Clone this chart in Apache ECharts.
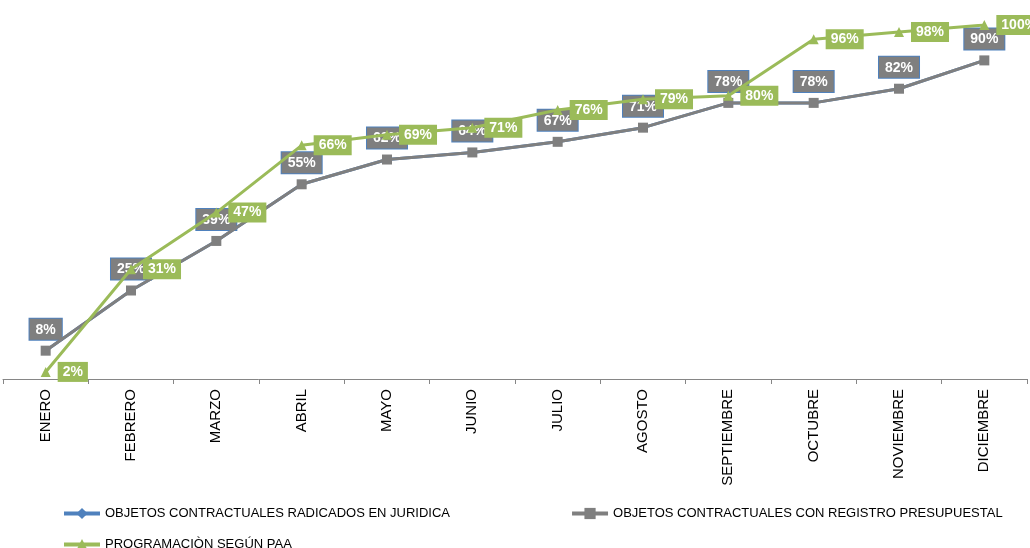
<!DOCTYPE html>
<html>
<head>
<meta charset="utf-8">
<script src="https://cdn.jsdelivr.net/npm/echarts@6/dist/echarts.min.js"></script>
<style>
html,body{margin:0;padding:0;background:#fff;}
#chart{width:1030px;height:548px;}
</style>
</head>
<body>
<div id="chart"></div>
<script>
const months = ['ENERO','FEBRERO','MARZO','ABRIL','MAYO','JUNIO','JULIO','AGOSTO','SEPTIEMBRE','OCTUBRE','NOVIEMBRE','DICIEMBRE'];
const radicados = [8,25,39,55,62,64,67,71,78,78,82,90];
const registro = [8,25,39,55,62,64,67,71,78,78,82,90];
const programacion = [2,31,47,66,69,71,76,79,80,96,98,100];
const seriesNames = ['OBJETOS CONTRACTUALES RADICADOS EN JURIDICA','OBJETOS CONTRACTUALES CON REGISTRO PRESUPUESTAL','PROGRAMACIÒN SEGÚN PAA'];

const chart = echarts.init(document.getElementById('chart'));
const fontFam = 'Liberation Sans, Arial, sans-serif';
const legendCommon = {
  itemWidth: 36, itemHeight: 14,
  lineStyle: {width: 4},
  textStyle: {fontSize: 13, color: '#000', fontFamily: fontFam}
};
chart.setOption({
  animation: false,
  backgroundColor: '#fff',
  grid: {left: 3, right: 3, top: 25, bottom: 169, containLabel: false},
  xAxis: {
    type: 'category',
    data: months,
    boundaryGap: true,
    axisLine: {lineStyle: {color: '#868686', width: 1}},
    axisTick: {show: true, length: 5, lineStyle: {color: '#868686'}},
    axisLabel: {rotate: 90, fontSize: 15, color: '#000', fontFamily: fontFam, margin: 10}
  },
  yAxis: {
    type: 'value', min: 0, max: 100,
    show: false, splitLine: {show: false}
  },
  legend: [
    Object.assign({data: [seriesNames[0], seriesNames[1]], left: 57, top: 502, itemGap: 120}, legendCommon),
    Object.assign({data: [seriesNames[2]], left: 57, top: 533}, legendCommon)
  ],
  series: [
    {
      name: seriesNames[0], type: 'line', data: radicados,
      color: '#4f81bd', symbol: 'diamond', symbolSize: 8,
      lineStyle: {width: 3, color: '#4f81bd'},
      itemStyle: {color: '#4f81bd'},
      label: {
        show: true, position: 'top', distance: 7,
        formatter: p => p.value + '%',
        color: '#fff', fontWeight: 'bold', fontSize: 14, fontFamily: fontFam,
        backgroundColor: '#7f7f7f', borderColor: '#4f81bd', borderWidth: 1,
        padding: [4, 6, 3, 6]
      },
      z: 2
    },
    {
      name: seriesNames[1], type: 'line', data: registro,
      color: '#7f7f7f', symbol: 'rect', symbolSize: 10,
      lineStyle: {width: 3, color: '#7f7f7f'},
      itemStyle: {color: '#7f7f7f'},
      label: {show: false},
      z: 3
    },
    {
      name: seriesNames[2], type: 'line', data: programacion,
      color: '#9bbb59', symbol: 'triangle', symbolSize: 10,
      lineStyle: {width: 3, color: '#9bbb59'},
      itemStyle: {color: '#9bbb59'},
      label: {
        show: true, position: 'right', distance: 7,
        formatter: p => p.value + '%',
        color: '#fff', fontWeight: 'bold', fontSize: 14, fontFamily: fontFam,
        backgroundColor: '#9bbb59',
        padding: [3, 5, 3, 5]
      },
      z: 4
    }
  ]
});
</script>
</body>
</html>
